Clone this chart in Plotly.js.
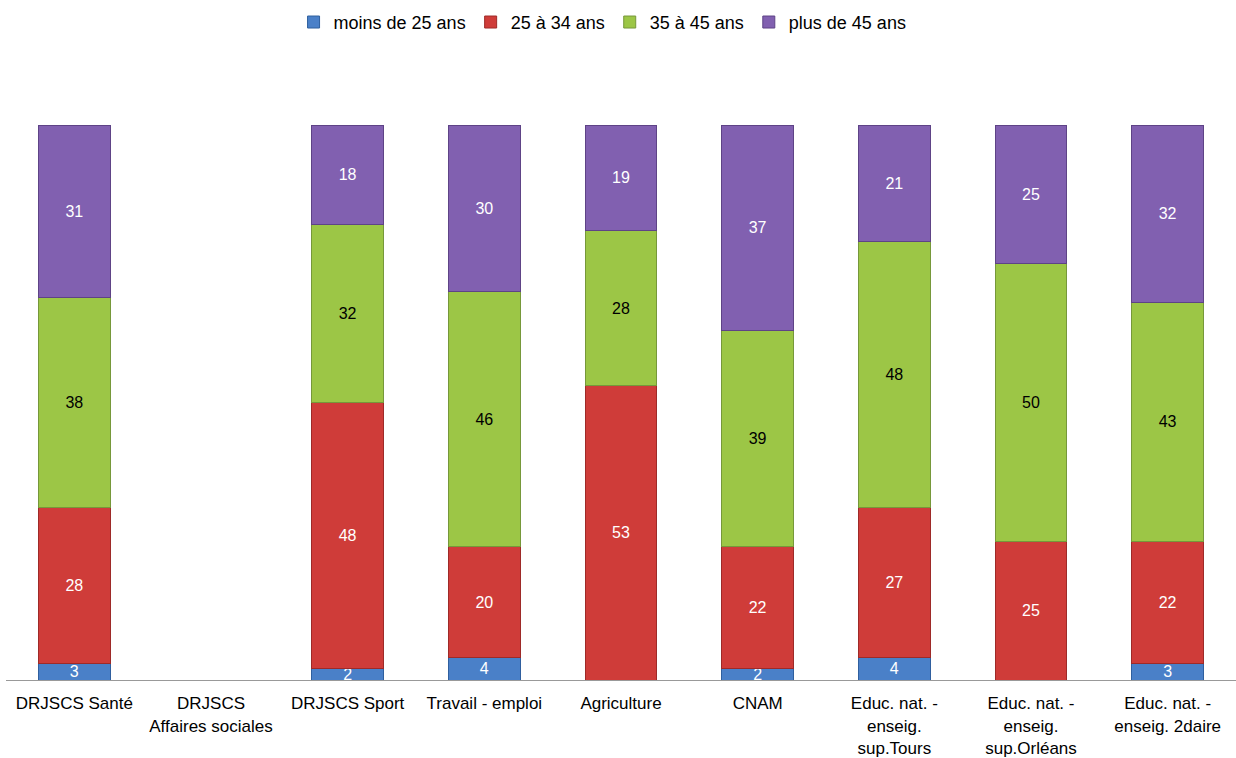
<!DOCTYPE html>
<html><head><meta charset="utf-8">
<script src="https://cdn.plot.ly/plotly-3.0.1.min.js"></script>
<style>html,body{margin:0;padding:0;background:#fff}</style>
</head><body>
<div id="chart" style="width:1236px;height:758px"></div>
<script>
const categories = ["DRJSCS Santé","DRJSCS<br>Affaires sociales","DRJSCS Sport","Travail - emploi","Agriculture","CNAM","Educ. nat. -<br>enseig.<br>sup.Tours","Educ. nat. -<br>enseig.<br>sup.Orléans","Educ. nat. -<br>enseig. 2daire"];
const seriesNames = ["moins de 25 ans","25 à 34 ans","35 à 45 ans","plus de 45 ans"];
const moins25 = [3, null, 2, 4, 0, 2, 4, 0, 3];
const a25_34 = [28, null, 48, 20, 53, 22, 27, 25, 22];
const a35_45 = [38, null, 32, 46, 28, 39, 48, 50, 43];
const plus45 = [31, null, 18, 30, 19, 37, 21, 25, 32];
const values = [moins25, a25_34, a35_45, plus45];
const colors = ["#4a80c8","#cf3c39","#9cc646","#8160b0"];
const lines = ["#2f5f9e","#9e2a28","#76983a","#5e4386"];
const textColors = ["#ffffff","#ffffff","#000000","#ffffff"];

const traces = values.map((v,i)=>({
  type:'bar', name:seriesNames[i], x:categories, y:v,
  marker:{color:colors[i], line:{color:lines[i], width:1}},
  text:v.map(d=>d===null?'':String(d)), textposition:'inside', insidetextanchor:'middle',
  textangle:0,
  textfont:{family:'Liberation Sans, Arial, sans-serif', size:16, color:textColors[i]},
  constraintext:'none', cliponaxis:false, hoverinfo:'skip'
}));

Plotly.newPlot('chart', traces, {
  barmode:'stack', bargap:0.475,
  width:1236, height:758,
  margin:{l:6, r:0, t:125, b:78, autoexpand:false},
  paper_bgcolor:'#fff', plot_bgcolor:'#fff',
  font:{family:'Liberation Sans, Arial, sans-serif', color:'#000'},
  showlegend:true,
  legend:{orientation:'h', traceorder:'normal', x:0.485, xanchor:'center', y:1.185, yanchor:'middle',
    font:{size:18}, itemwidth:30, tracegroupgap:0},
  xaxis:{type:'category', showline:true, linecolor:'#999', linewidth:1, ticks:'outside', ticklen:8,
    tickcolor:'rgba(0,0,0,0)', tickfont:{size:17}, fixedrange:true},
  yaxis:{range:[0,100], visible:false, showgrid:false, zeroline:false, fixedrange:true}
}, {displayModeBar:false, staticPlot:true});
</script>
</body></html>
